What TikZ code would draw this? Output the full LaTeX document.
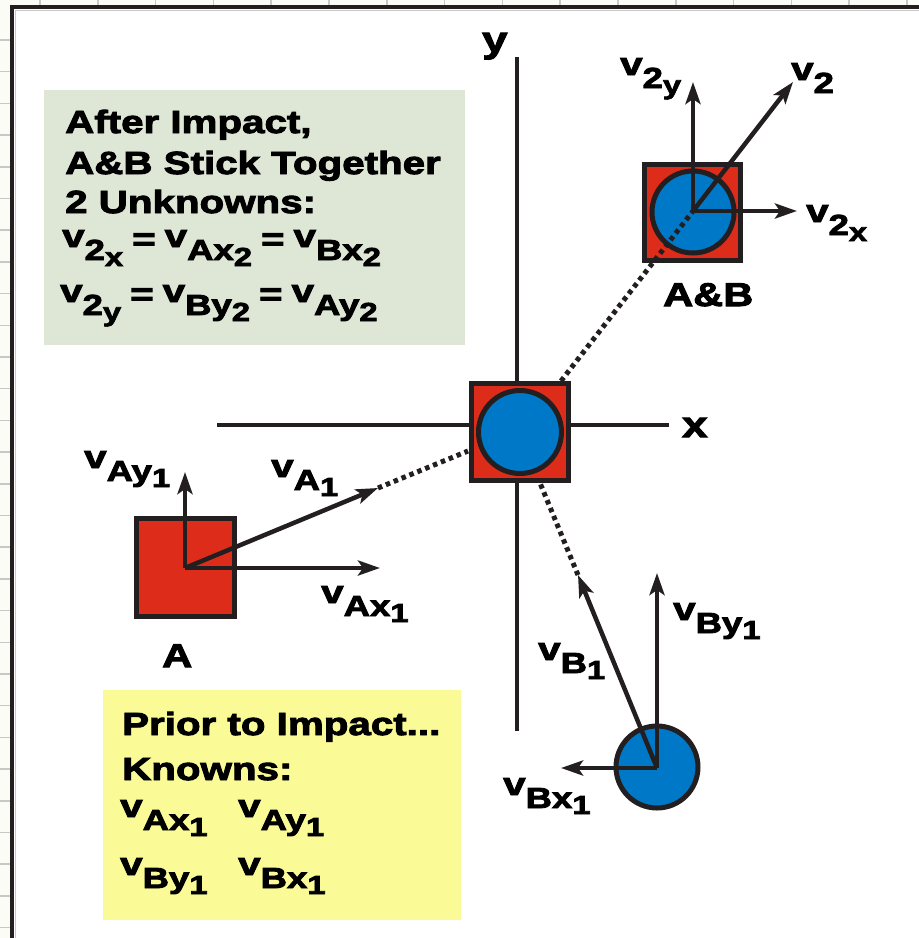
\documentclass[tikz,border=0pt]{standalone}
\usepackage{fontspec}
\setmainfont{Liberation Sans}
\newfontfamily\blk{Liberation Sans}[FakeStretch=1.26,FakeBold=3]
\usetikzlibrary{arrows.meta}
\definecolor{redA}{RGB}{221,44,26}
\definecolor{blueB}{RGB}{0,120,200}
\definecolor{ink}{RGB}{35,31,32}
\definecolor{greenbox}{RGB}{222,230,214}
\definecolor{yellowbox}{RGB}{250,250,150}
\definecolor{gridc}{RGB}{200,200,200}
\definecolor{outbg}{RGB}{252,252,246}
\newcommand{\vl}[2]{{\fontsize{32}{32}\selectfont v}\raisebox{-13pt}{\fontsize{29}{29}\selectfont #1\raisebox{-6pt}{\fontsize{26}{26}\selectfont #2}}}
\newcommand{\eqs}{\hspace{9pt}\raisebox{-3pt}{\fontsize{32}{32}\selectfont =}\hspace{9pt}}
\tikzset{
  sqbox/.style={draw=ink, fill=redA, line width=5pt, minimum size=96pt, inner sep=0pt, shape=rectangle},
  ball/.style={draw=ink, fill=blueB, line width=5pt, minimum size=82pt, inner sep=0pt, shape=circle},
  axisline/.style={draw=ink, line width=4pt},
  vec/.style={draw=ink, line width=4.5pt, -{Stealth[length=22pt,width=15pt,inset=5pt]}},
  dotl/.style={draw=ink, line width=5pt, dash pattern=on 4.5pt off 4pt},
  lbl/.style={anchor=base west, inner sep=0pt, text=black, font=\blk\bfseries},
  ttl/.style={anchor=base west, inner sep=0pt, text=black, font=\blk\bfseries\fontsize{32}{38}\selectfont},
  infobox/.style={anchor=north west, inner sep=0pt, draw=none}
}
\begin{document}
\begin{tikzpicture}[x=1pt,y=-1pt]
\useasboundingbox (0,0) rectangle (919,938);
% outside background and grid
\fill[outbg] (0,0) rectangle (919,938);
\foreach \k in {0,...,28} {\draw[gridc, line width=1.5pt] (0,{40+31.7*\k}) -- (10,{40+31.7*\k});}
\foreach \k in {0,...,15} {\draw[gridc, line width=1.5pt] ({40+57.8*\k},0) -- ({40+57.8*\k},5);}
\fill[white] (12,7) rectangle (919,938);
\draw[gridc, line width=1pt] (15.5,938) -- (15.5,10.5) -- (919,10.5);
\draw[ink, line width=4pt, line join=miter] (12,938) -- (12,7) -- (919,7);

% info boxes
\node[infobox, fill=greenbox, minimum width=421pt, minimum height=255pt] (gbox) at (44,90) {};
\node[infobox, fill=yellowbox, minimum width=358pt, minimum height=230pt] (ybox) at (103,690) {};

% axes
\coordinate (yT) at (517,57);
\coordinate (yB) at (517,731);
\coordinate (xL) at (217,425);
\coordinate (xR) at (669,425);
\draw[axisline] (yT) -- (yB);
\draw[axisline] (xL) -- (xR);

% vector coordinates
\coordinate (Ao) at (185,568);
\coordinate (Ayt) at (185,472);
\coordinate (Axt) at (380,568);
\coordinate (A1t) at (378,488);
\coordinate (Ce1) at (468,451);
\coordinate (Bo) at (657,768);
\coordinate (Byt) at (657,573);
\coordinate (Bxt) at (561,768);
\coordinate (B1t) at (578,575);
\coordinate (Ce2) at (540,483);
\coordinate (ABo) at (693,211);
\coordinate (ABy) at (693,82);
\coordinate (AB2) at (793,82);
\coordinate (ABx) at (797,211);
\coordinate (Ce3) at (561,381);

% dotted paths to collision
\draw[dotl] (A1t) -- (Ce1);
\draw[dotl] (B1t) -- (Ce2);

% central collision
\node[sqbox, minimum size=97pt] (C) at (519.5,431.5) {};
\node[ball, minimum size=83pt] (Cb) at (520,432) {};

% A
\node[sqbox, minimum size=98pt] (A) at (185.5,567.5) {};
% A&B
\node[sqbox] (AB) at (692.5,212) {};
\node[ball] (ABb) at (693,212) {};
\draw[dotl] (Ce3) -- (ABo);
% B
\node[ball] (B) at (657,767) {};

% vectors
\draw[vec] (Ao) -- (Ayt);
\draw[vec] (Ao) -- (Axt);
\draw[vec] (Ao) -- (A1t);
\draw[vec] (Bo) -- (Byt);
\draw[vec] (Bo) -- (Bxt);
\draw[vec] (Bo) -- (B1t);
\draw[vec] (ABo) -- (ABy);
\draw[vec] (ABo) -- (AB2);
\draw[vec] (ABo) -- (ABx);

% axis labels
\node[lbl, font=\blk\bfseries\fontsize{36}{36}\selectfont] (ylab) at (482,52) {y};
\node[lbl, font=\blk\bfseries\fontsize{36}{36}\selectfont] (xlab) at (682,437) {x};

% object labels
\node[lbl, font=\blk\bfseries\fontsize{33}{33}\selectfont] (Alab) at (162,667) {A};
\node[lbl, font=\blk\bfseries\fontsize{33}{33}\selectfont] (ABlab) at (663,306) {A\&B};

% vector labels
\node[lbl] (lAy) at (84,468) {\vl{Ay}{1}};
\node[lbl] (lA1) at (271,477) {\vl{A}{1}};
\node[lbl] (lAx) at (321,603) {\vl{Ax}{1}};
\node[lbl] (lBy) at (673,620) {\vl{By}{1}};
\node[lbl] (lB1) at (538,660) {\vl{B}{1}};
\node[lbl] (lBx) at (503,795) {\vl{Bx}{1}};
\node[lbl] (l2y) at (620,75) {\vl{2}{y}};
\node[lbl] (l2) at (791,80) {\vl{2}{}};
\node[lbl] (l2x) at (806,222) {\vl{2}{x}};

% green box text
\node[ttl] (g1) at (65,133) {After Impact,};
\node[ttl] (g2) at (65,174) {A\&B Stick Together};
\node[ttl] (g3) at (65,213) {2 Unknowns:};
\node[lbl] (g4) at (62,247) {\vl{2}{x}\eqs\vl{Ax}{2}\eqs\vl{Bx}{2}};
\node[lbl] (g5) at (60,302) {\vl{2}{y}\eqs\vl{By}{2}\eqs\vl{Ay}{2}};

% yellow box text
\node[ttl] (y1) at (122,735) {Prior to Impact...};
\node[ttl] (y2) at (122,780) {Knowns:};
\node[lbl] (y3a) at (120,817) {\vl{Ax}{1}};
\node[lbl] (y3b) at (238,817) {\vl{Ay}{1}};
\node[lbl] (y4a) at (120,875) {\vl{By}{1}};
\node[lbl] (y4b) at (238,875) {\vl{Bx}{1}};
\end{tikzpicture}
\end{document}
